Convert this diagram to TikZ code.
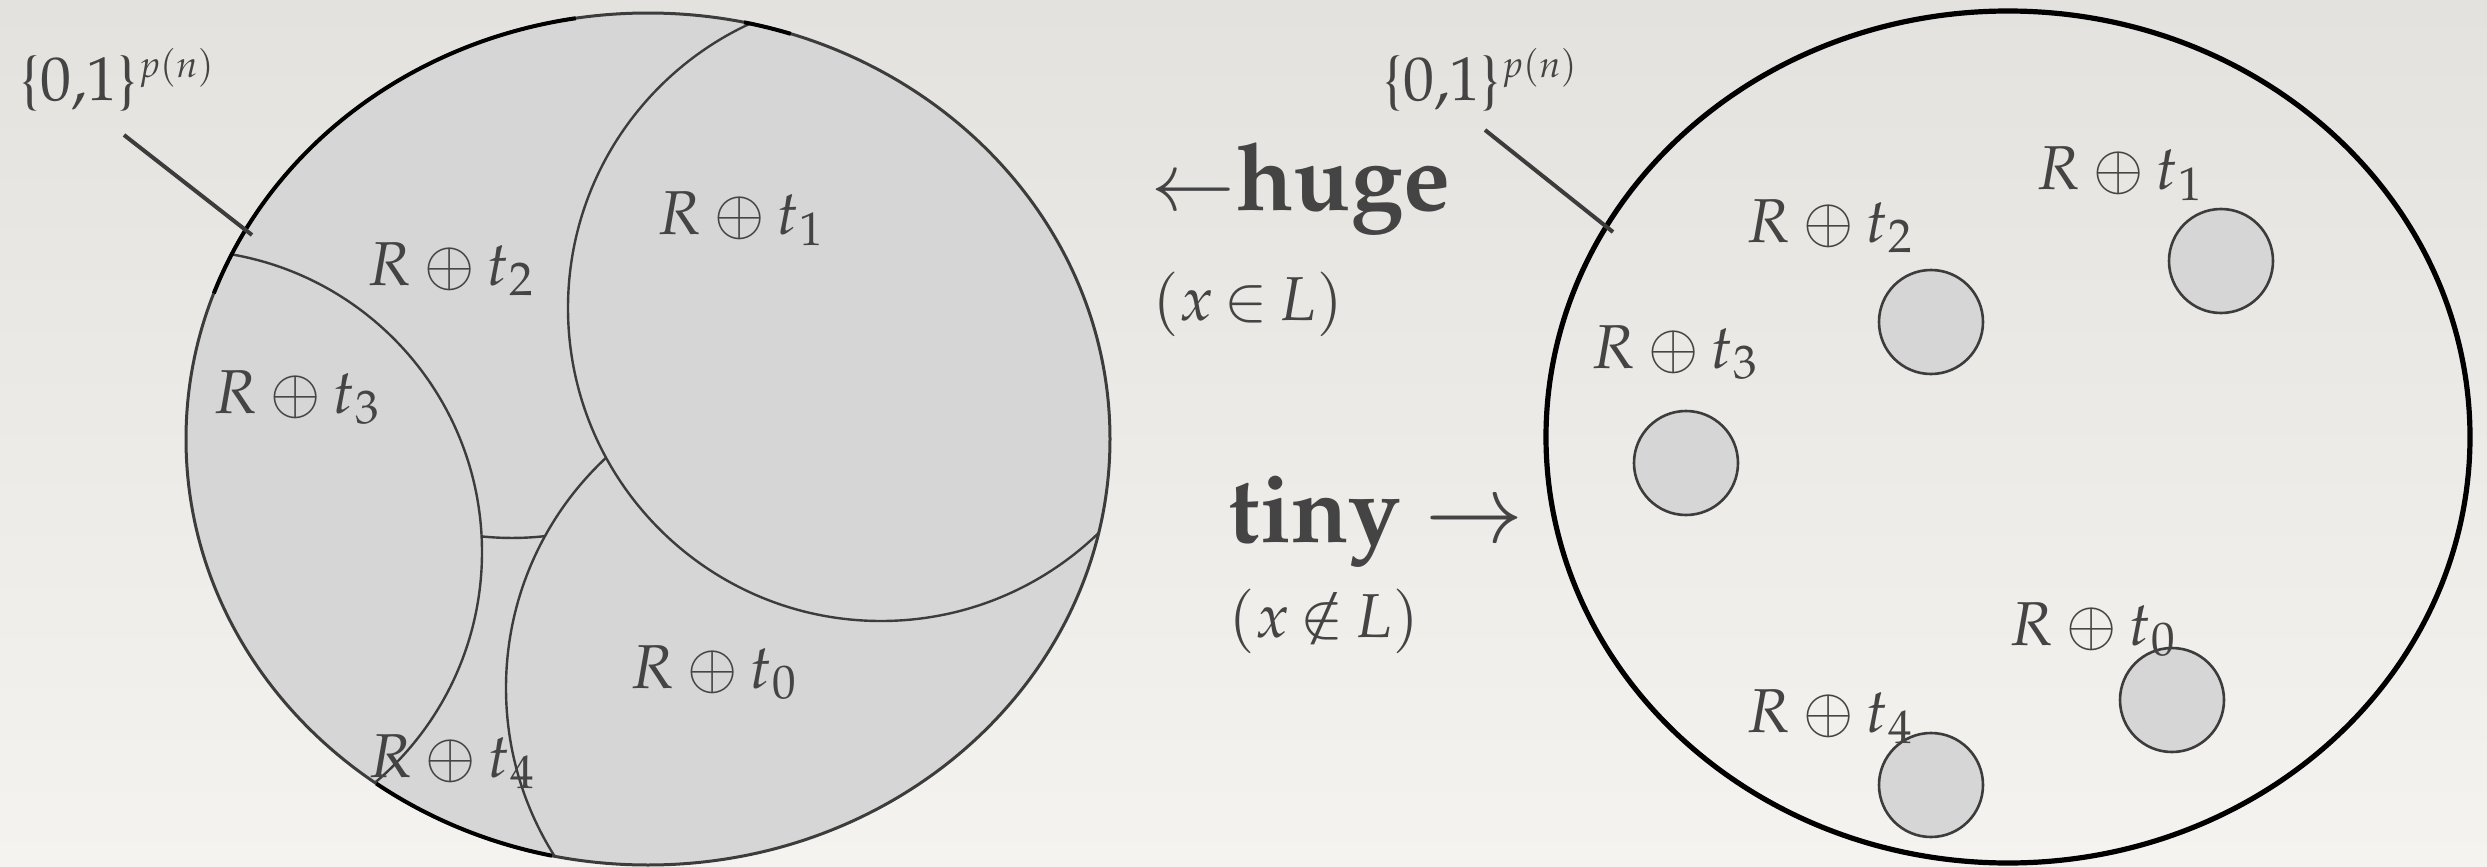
\documentclass[tikz,border=0pt]{standalone}
\usepackage[T1]{fontenc}
\usepackage{mathpazo}
\usetikzlibrary{calc}
\definecolor{bgtop}{HTML}{E4E2DE}
\definecolor{bgbot}{HTML}{F5F3EF}
\definecolor{setfill}{HTML}{D6D6D6}
\definecolor{ink}{HTML}{3C3C3C}
\definecolor{txt}{HTML}{444444}
\tikzset{
  region/.style={fill=setfill, draw=ink, line width=0.6pt},
  seam/.style={draw=ink, line width=0.6pt},
  outline/.style={draw=ink, line width=0.75pt},
  outlinedark/.style={draw=black, line width=1pt},
  bigoutline/.style={draw=black, line width=1.3pt},
  dotset/.style={fill=setfill, draw=ink, line width=0.65pt},
  pointer/.style={draw=ink, line width=1pt},
  lbl/.style={text=txt, inner sep=0pt, anchor=base, font=\fontsize{15.5}{18}\selectfont},
  lblw/.style={text=txt, inner sep=0pt, anchor=base west, font=\fontsize{15.5}{18}\selectfont},
  bigword/.style={text=txt, inner sep=0pt, anchor=base west, font=\fontsize{23.5}{27}\selectfont\bfseries},
}
\newcommand{\tightrel}[1]{\mskip3mu\mathord{#1}\mskip3mu}
\newcommand{\cubeset}{\{0,1\}$^{\scriptscriptstyle p(n)}$}
\begin{document}
\begin{tikzpicture}[x=0.25pt,y=-0.25pt]
\useasboundingbox (0,0) rectangle (2487,867);
\shade[top color=bgtop, bottom color=bgbot] (0,0) rectangle (2487,867);

% ---------- left: the union covers everything ----------
\coordinate (L) at (648,439);
\fill[setfill] (L) ellipse [x radius=462, y radius=426];
\begin{scope}
  \clip (L) ellipse [x radius=462, y radius=426];
  \draw[seam] (564.1,533.4) arc [start angle=80, end angle=100, radius=300]; % edge of t2
  \draw[region] (180,552) circle [radius=302]; % t3
  \draw[region] (821,688) circle [radius=315]; % t0
  \draw[region] (881,308) circle [radius=313]; % t1
\end{scope}
\draw[outline] (L) ellipse [x radius=462, y radius=426];
\draw[outlinedark] ($(L)+(200:462 and 426)$) arc [start angle=200, end angle=261, x radius=462, y radius=426];
\draw[outlinedark] ($(L)+(282:462 and 426)$) arc [start angle=282, end angle=288, x radius=462, y radius=426];
\draw[outlinedark] ($(L)+(102:462 and 426)$) arc [start angle=102, end angle=126, x radius=462, y radius=426];

\node[lbl] (la1) at (741,234) {$R\oplus t_1$};
\node[lbl] (la2) at (451,285) {$R\oplus t_2$};
\node[lbl] (la3) at (297,413) {$R\oplus t_3$};
\node[lbl] (la0) at (714,688) {$R\oplus t_0$};
\node[lbl] (la4) at (452,777) {$R\oplus t_4$};

\node[lblw] (spaceL) at (19,100) {\cubeset};
\coordinate (pL1) at (124,135);
\coordinate (pL2) at (252,235);
\draw[pointer] (pL1) -- (pL2);

% ---------- middle ----------
\node[bigword] (huge) at (1150,210) {{\fontsize{20}{24}\selectfont$\leftarrow$}huge};
\node[lblw] (inL) at (1152,320) {$(x\tightrel{\in}L)$};
\node[bigword] (tiny) at (1228,542) {tiny $\rightarrow$};
\node[lblw] (notinL) at (1228,637) {$(x\tightrel{\notin}L)$};

% ---------- right: the union is tiny ----------
\coordinate (Rc) at (2008,437);
\draw[bigoutline] (Rc) ellipse [x radius=462, y radius=426];
\draw[dotset] (2221,261) circle [radius=52];
\draw[dotset] (1931,322) circle [radius=52];
\draw[dotset] (1686,463) circle [radius=52];
\draw[dotset] (2172,700) circle [radius=52];
\draw[dotset] (1931,785) circle [radius=52];

\node[lbl] (rb1) at (2120,189) {$R\oplus t_1$};
\node[lbl] (rb2) at (1830,242) {$R\oplus t_2$};
\node[lbl] (rb3) at (1675,368) {$R\oplus t_3$};
\node[lbl] (rb0) at (2093,645) {$R\oplus t_0$};
\node[lbl] (rb4) at (1830,732) {$R\oplus t_4$};

\node[lblw] (spaceR) at (1382,100) {\cubeset};
\coordinate (pR1) at (1485,130);
\coordinate (pR2) at (1613,232);
\draw[pointer] (pR1) -- (pR2);
\end{tikzpicture}
\end{document}
